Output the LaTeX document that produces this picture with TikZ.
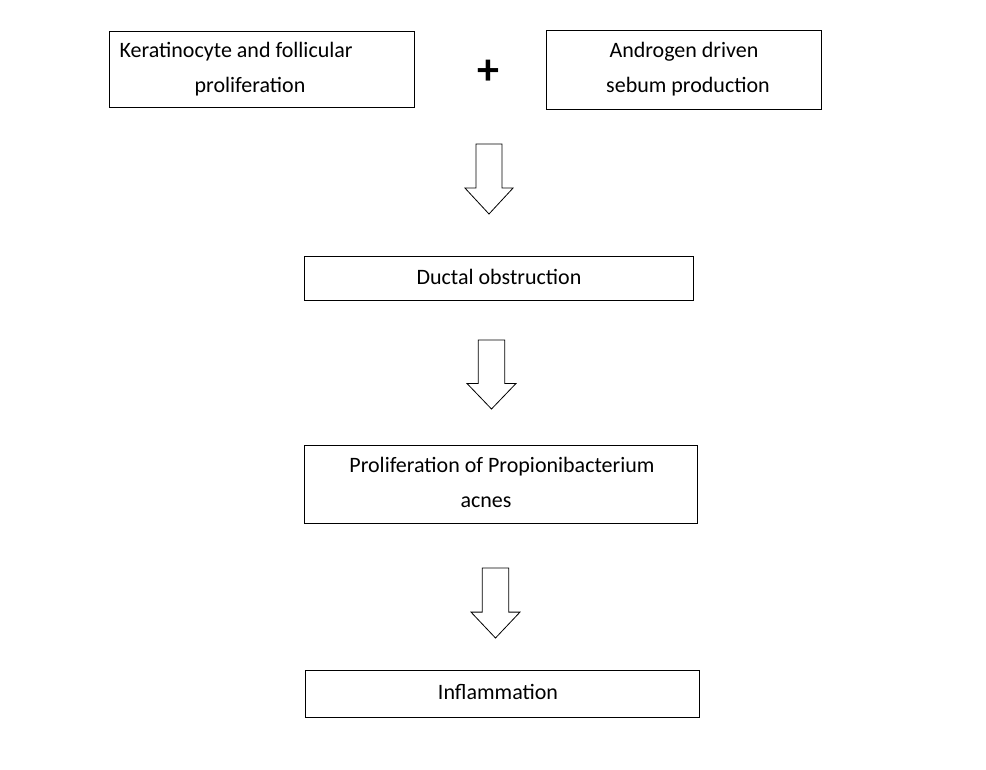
\documentclass[tikz,border=0pt]{standalone}
\usepackage{fontspec}
\setmainfont{Carlito}
\begin{document}
\begin{tikzpicture}[x=1pt,y=-1pt,
  box/.style={draw,line width=0.8pt,inner sep=0pt},
  txt/.style={font=\fontsize{22}{27}\selectfont,align=center},
  harrow/.style={draw,line width=0.8pt,fill=white}]
\useasboundingbox (0,0) rectangle (986,770);
\def\harr#1#2#3#4{% left x, top y, width, height
  \draw[harrow] ({#1+#3*0.23},#2) -- ({#1+#3*0.77},#2) -- ({#1+#3*0.77},{#2+#4*0.63}) -- ({#1+#3},{#2+#4*0.63}) -- ({#1+#3/2},{#2+#4}) -- (#1,{#2+#4*0.63}) -- ({#1+#3*0.23},{#2+#4*0.63}) -- cycle;}
\draw[box] (109,31) rectangle (414,107);
\node[txt,anchor=west] (k1) at (116,52) {Keratinocyte and follicular};
\node[txt] (k2) at (250,87) {proliferation};
\node[font=\fontsize{44}{44}\selectfont\bfseries] (plus) at (488,72) {+};
\draw[box] (546,30) rectangle (821,109);
\node[txt] (a1) at (684,52) {Androgen driven};
\node[txt] (a2) at (688,87) {sebum production};
\harr{465}{144}{48}{70}
\draw[box] (304,256) rectangle (693,300);
\node[txt] (d) at (499,277) {Ductal obstruction};
\harr{467}{340}{49}{69}
\draw[box] (304,445) rectangle (697,523);
\node[txt] (p1) at (502,467) {Proliferation of Propionibacterium};
\node[txt] (p2) at (486,502) {acnes};
\harr{471}{568}{49}{70}
\draw[box] (305,670) rectangle (699,717);
\node[txt] (i) at (498,692) {Inflammation};
\end{tikzpicture}
\end{document}
